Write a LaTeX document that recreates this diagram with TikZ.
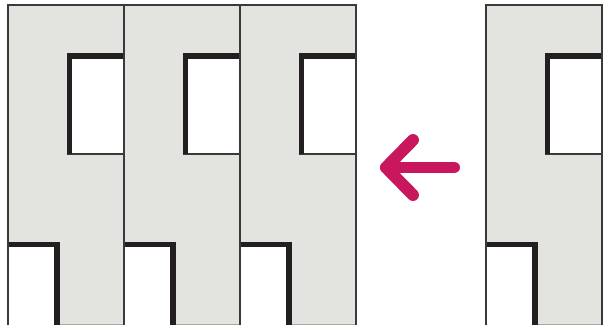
\documentclass[tikz,border=0pt]{standalone}
\usepackage{xcolor}
\definecolor{TileGray}{HTML}{E3E4DF}
\definecolor{WallBlack}{HTML}{231F20}
\definecolor{EdgeGray}{HTML}{3A3A3A}
\definecolor{BaseGray}{HTML}{A8A8A2}
\definecolor{ArrowMagenta}{HTML}{C8175D}
\usepackage{tikz}
\usetikzlibrary{calc}
\tikzset{
  tilebox/.style={fill=TileGray},
  holebox/.style={fill=white},
  wallthick/.style={draw=WallBlack, line width=7.8pt},
  wallthin/.style={draw=EdgeGray, line width=1.5pt},
  baseline/.style={draw=BaseGray, line width=1.2pt},
  shiftarr/.style={draw=ArrowMagenta, line width=17pt, line cap=round, line join=round}
}

\begin{document}
\begin{tikzpicture}[x=0.5mm, y=-0.5mm]
\useasboundingbox (0,0) rectangle (605,325);
% the repeated tiles, three on the left and one on the right
\foreach \tx in {8,124,240,486}{
  \begin{scope}[shift={(\tx,0)}]
    \fill[tilebox] (0,5) rectangle (116,324);
    \draw[baseline] (52,324) -- (116,324);
    % upper opening
    \fill[holebox] (59,53) rectangle (116,154);
    \draw[wallthin] (59,154) -- (116,154);
    \draw[wallthick] (61.5,154) -- (61.5,56) -- (116,56);
    % lower opening
    \fill[holebox] (0,242) rectangle (52,325);
    \draw[wallthick] (0,244.5) -- (49,244.5) -- (49,325);
    \draw[wallthin] (0,325) -- (0,5) -- (116,5) -- (116,325);
  \end{scope}
}
% arrow between the two groups
\coordinate (tail) at (454,167.5);
\coordinate (tip) at (386,167.5);
\coordinate (armup) at (413,140);
\coordinate (armdown) at (413,195);
\draw[shiftarr] (tail) -- (tip);
\draw[shiftarr] (armup) -- (tip) -- (armdown);
\end{tikzpicture}
\end{document}
